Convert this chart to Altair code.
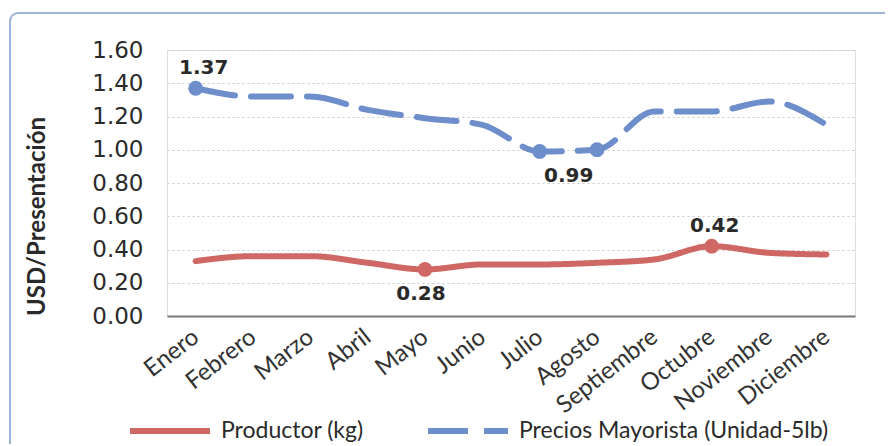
import altair as alt
import pandas as pd

meses = ["Enero", "Febrero", "Marzo", "Abril", "Mayo", "Junio", "Julio",
         "Agosto", "Septiembre", "Octubre", "Noviembre", "Diciembre"]
productor = [0.33, 0.36, 0.36, 0.32, 0.28, 0.31, 0.31, 0.32, 0.34, 0.42, 0.38, 0.37]
mayorista = [1.37, 1.32, 1.32, 1.24, 1.19, 1.15, 0.99, 1.00, 1.23, 1.23, 1.29, 1.15]
serie_nombres = ["Productor (kg)", "Precios Mayorista (Unidad-5lb)"]
y_ticks = [0.0, 0.2, 0.4, 0.6, 0.8, 1.0, 1.2, 1.4, 1.6]

# highlighted points: (serie, mes, valor)
puntos_serie = [serie_nombres[1], serie_nombres[1], serie_nombres[1], serie_nombres[0], serie_nombres[0]]
puntos_mes = ["Enero", "Julio", "Agosto", "Mayo", "Octubre"]
puntos_valor = [1.37, 0.99, 1.00, 0.28, 0.42]

rows = []
for m, p, w in zip(meses, productor, mayorista):
    rows.append({"mes": m, "valor": p, "serie": serie_nombres[0]})
    rows.append({"mes": m, "valor": w, "serie": serie_nombres[1]})
df = pd.DataFrame(rows)
pts = pd.DataFrame({"serie": puntos_serie, "mes": puntos_mes, "valor": puntos_valor})

RED = "#cf6865"
BLUE = "#6d8dcb"
W, H = 688, 266

x_enc = alt.X("mes:N", sort=meses, scale=alt.Scale(type="point", padding=0.5),
              axis=alt.Axis(title=None, labelAngle=-38, labelAlign="right", labelBaseline="middle",
                            labelFont="Lato", labelFontSize=24, labelColor="#333",
                            labelPadding=18, ticks=False, domain=True, domainColor="#777",
                            domainWidth=2, grid=False, labelOverlap=False))
y_enc = alt.Y("valor:Q", scale=alt.Scale(domain=[0, 1.6], nice=False, zero=True),
              axis=alt.Axis(title="USD/Presentación", values=y_ticks, format=".2f",
                            labelFont="DejaVu Sans", labelFontSize=23, labelColor="#2a2a2a",
                            labelPadding=24, ticks=False, domain=False, labelOverlap=False,
                            grid=True, gridColor="#c8c8c8", gridDash=[2, 3], gridWidth=1,
                            titleFont="Lato", titleFontSize=24, titleFontWeight="bold",
                            titleColor="#2a2a2a", titleX=-130, titleY=166, titleAngle=-90,
                            titleAlign="center", titleBaseline="middle"))
color_scale = alt.Scale(domain=serie_nombres, range=[RED, BLUE])
dash_scale = alt.Scale(domain=serie_nombres, range=[[1, 0], [40, 16]])

border = alt.Chart(pd.DataFrame({"k": [0]})).mark_rect(
    fill="transparent", stroke="#9fb3d9", strokeWidth=2, cornerRadius=8
).encode(x=alt.value(-157), x2=alt.value(760), y=alt.value(-37), y2=alt.value(440))

lines = alt.Chart(df).mark_line(interpolate="monotone", strokeWidth=6, strokeCap="round").encode(
    x=x_enc,
    y=y_enc,
    color=alt.Color("serie:N", scale=color_scale, title=None,
                    legend=alt.Legend(orient="none", legendX=-40, legendY=338, direction="horizontal",
                                      symbolType="stroke", symbolSize=6400, symbolStrokeWidth=6,
                                      labelFont="Lato", labelFontSize=23, labelColor="#2a2a2a",
                                      labelOffset=8, columnPadding=52, labelLimit=400)),
    strokeDash=alt.StrokeDash("serie:N", scale=dash_scale, title=None, legend=None),
    detail="serie:N",
)

dots = alt.Chart(pts).mark_circle(size=220, opacity=1).encode(
    x=x_enc,
    y=y_enc,
    color=alt.Color("serie:N", scale=color_scale, legend=None),
)

def lbl(mes, valor, texto, dx, dy):
    d = pd.DataFrame({"mes": [mes], "valor": [valor], "t": [texto]})
    return alt.Chart(d).mark_text(font="DejaVu Sans", fontSize=20, fontWeight="bold",
                                  color="#2a2a2a", dx=dx, dy=dy).encode(
        x=x_enc, y=y_enc, text="t:N")

labels = (lbl("Enero", puntos_valor[0], "1.37", 8, -20)
          + lbl("Julio", puntos_valor[1], "0.99", 29, 25)
          + lbl("Mayo", puntos_valor[3], "0.28", -4, 25)
          + lbl("Octubre", puntos_valor[4], "0.42", 3, -20))

chart = alt.layer(border, lines, dots, labels).properties(
    width=W, height=H,
    autosize=alt.AutoSizeParams(type="none"),
    padding={"left": 159, "top": 42, "right": 30, "bottom": 128},
).configure_view(stroke=None).configure(background="white")

chart.save("out.html", embed_options={"renderer": "svg", "actions": False})
